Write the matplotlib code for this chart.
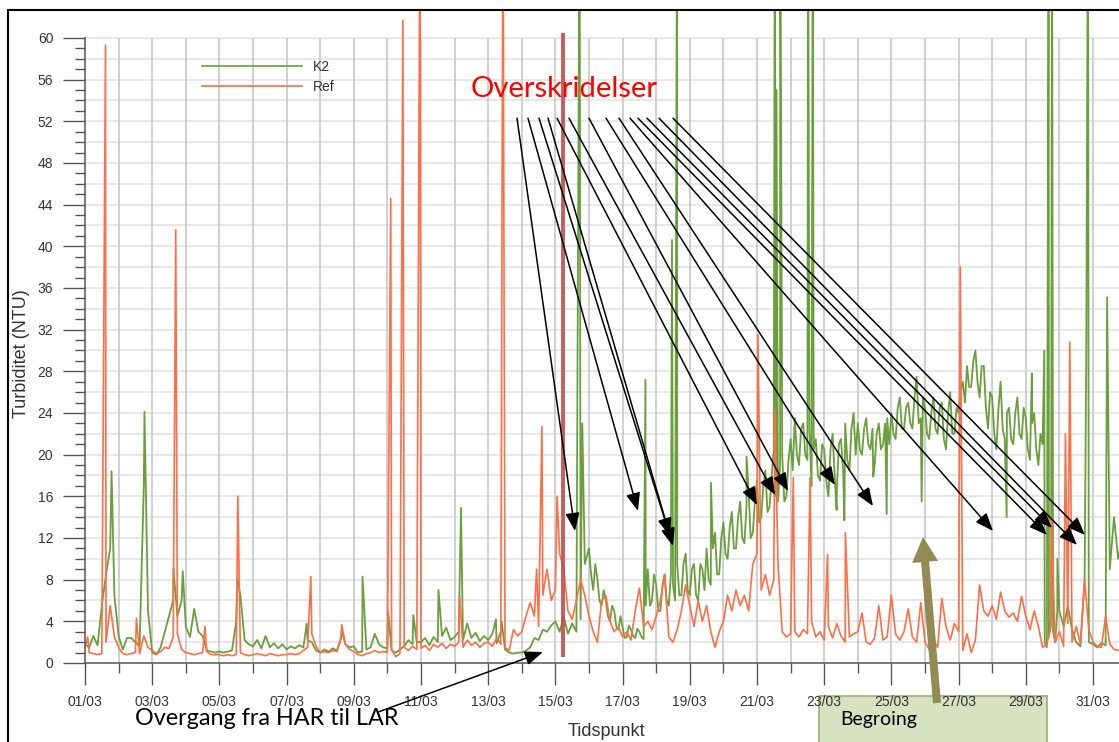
import numpy as np
import matplotlib
matplotlib.use("Agg")
import matplotlib.pyplot as plt
from matplotlib.patches import Rectangle

# ---------------- data ----------------
# regular readings every 3 hours (8 per day), day 1 .. day 31 (March)
k2_grid = [
    1.8, 1.5, 2.6, 1.7, 5.5, 8.5, 11.0, 6.5,
    2.6, 1.3, 2.4, 2.4, 2.0, 1.6, 17.0, 5.0,
    1.0, 0.8, 1.5, 3.0, 4.5, 6.0, 4.5, 6.0,
    3.5, 2.5, 5.2, 3.0, 2.6, 1.2, 1.1, 1.0,
    1.1, 1.0, 1.1, 1.2, 4.0, 6.5, 2.2, 1.8,
    1.6, 2.2, 1.4, 2.6, 1.5, 1.9, 1.4, 1.8,
    1.3, 1.6, 1.4, 1.7, 1.5, 2.2, 2.0, 1.2,
    1.0, 1.3, 1.1, 1.4, 1.2, 2.4, 1.8, 1.5,
    1.6, 1.0, 1.1, 1.3, 1.5, 2.8, 1.8, 1.5,
    1.4, 1.2, 1.0, 1.3, 1.6, 2.2, 1.8, 2.0,
    2.0, 2.4, 1.7, 2.5, 2.0, 2.6, 3.4, 2.2,
    2.5, 3.0, 2.2, 3.8, 2.4, 2.9, 2.1, 2.6,
    2.2, 2.8, 1.9, 3.0, 1.3, 1.0, 0.9, 1.0,
    1.0, 1.2, 1.5, 2.4, 2.2, 3.2, 3.0, 3.6,
    4.0, 3.0, 4.4, 2.8, 3.8, 3.0, 4.2, 9.5,
    11.0, 7.0, 8.0, 5.5, 6.0, 4.0, 5.0, 3.2,
    3.4, 2.5, 3.2, 2.4, 3.0, 2.3, 9.0, 6.0,
    7.5, 5.0, 8.5, 5.5, 7.5, 9.5, 6.5, 10.5,
    6.5, 9.5, 6.0, 9.0, 11.0, 7.5, 12.5, 8.5,
    13.5, 10.0, 14.5, 11.0, 15.5, 11.5, 16.5, 12.5,
    17.5, 14.0, 18.5, 15.0, 20.5, 15.5, 20.0, 16.0,
    21.5, 23.5, 19.0, 23.0, 19.5, 17.0, 21.5, 17.5,
    20.5, 16.0, 22.0, 16.5, 21.5, 23.0, 18.5, 24.0,
    23.0, 20.0, 23.5, 20.5, 19.0, 23.0, 21.0, 23.5,
    24.0, 21.5, 25.5, 22.5, 25.0, 22.5, 27.5, 23.5,
    24.5, 21.5, 25.5, 22.0, 25.0, 20.5, 26.0, 22.0,
    24.0, 27.0, 28.5, 26.5, 30.0, 25.5, 28.5, 22.5,
    25.5, 20.5, 27.0, 21.5, 24.5, 21.0, 25.5, 21.5,
    23.5, 19.5, 24.0, 19.0, 21.0, 1.5, 4.0, 2.0,
    5.0, 3.5, 5.5, 3.2, 2.0, 1.6, 8.0, 2.0,
    1.8, 1.5, 1.9, 1.7, 9.0, 14.0, 10.0, 12.0,
]
# extra in-between readings (1.5 h offset) for the noisy K2 period, 16/03 .. 29/03
k2_mid_first_day = 16
k2_mid = [
    8.5, 9.5, 6.0, 7.0, 4.5, 5.5, 3.5, 4.5,
    2.4, 3.6, 2.6, 3.3, 2.5, 5.5, 5.5, 8.5,
    5.0, 7.5, 6.0, 8.5, 6.0, 6.5, 9.5, 7.0,
    9.0, 6.5, 9.5, 7.0, 8.0, 11.0, 8.5, 12.0,
    10.5, 13.0, 11.0, 14.0, 12.0, 15.0, 12.0, 15.5,
    13.5, 17.0, 14.5, 18.0, 16.0, 19.0, 15.5, 19.5,
    18.5, 20.0, 22.5, 20.0, 22.5, 20.5, 18.0, 21.0,
    17.5, 20.5, 18.0, 21.0, 18.5, 19.5, 22.5, 20.0,
    20.5, 22.5, 21.0, 22.5, 22.0, 20.5, 23.0, 21.0,
    22.0, 24.5, 22.5, 24.5, 23.0, 25.5, 23.0, 25.5,
    22.0, 24.0, 22.5, 24.5, 21.5, 24.0, 22.0, 24.5,
    26.0, 25.0, 26.5, 29.0, 27.0, 28.5, 24.5, 26.0,
    22.0, 24.5, 22.5, 24.0, 21.5, 24.0, 22.0, 24.5,
    20.5, 23.0, 20.5, 22.0, 2.0, 2.5, 3.0, 5.0,
]
# short spikes / dips between the readings
k2_spike_day = [1.79, 2.77, 3.63, 3.91, 5.53, 7.60, 8.64, 9.26, 10.02, 10.77,
                11.52, 12.19, 13.23, 13.40, 15.72, 15.80, 17.68, 18.47, 18.62,
                19.63, 20.69, 21.53, 21.58, 21.69, 22.52, 22.66, 23.37, 23.60,
                24.46, 24.86, 25.90, 28.43, 29.18, 29.55, 29.68, 29.78, 29.94,
                30.80, 30.85, 31.42]
k2_spike_val = [18.4, 24.1, 9.1, 8.8, 8.1, 3.8, 3.2, 8.3, 5.0, 4.6,
                7.0, 14.9, 4.2, 4.0, 75.0, 23.0, 27.2, 40.6, 75.0,
                17.3, 19.8, 75.0, 55.0, 75.0, 75.0, 75.0, 14.7, 13.7,
                17.9, 14.3, 15.5, 14.0, 27.8, 30.0, 75.0, 75.0, 10.0,
                30.0, 75.0, 35.1]

ref_grid = [
    1.4, 1.0, 0.9, 0.8, 0.9, 2.0, 5.5, 2.5,
    1.5, 0.9, 0.8, 0.9, 1.0, 0.9, 2.6, 1.5,
    1.2, 0.9, 1.1, 1.5, 1.4, 2.5, 2.8, 1.3,
    1.0, 0.9, 0.8, 0.9, 1.0, 1.1, 0.8, 0.8,
    0.8, 0.7, 0.8, 0.7, 0.8, 1.0, 0.8, 0.7,
    0.8, 0.9, 0.8, 0.7, 0.9, 0.8, 0.7, 0.8,
    0.8, 0.9, 0.8, 0.9, 1.2, 1.5, 2.8, 1.6,
    1.0, 1.1, 1.0, 1.2, 1.1, 2.5, 1.8, 1.3,
    1.1, 0.8, 0.7, 0.9, 1.0, 1.2, 1.0, 1.1,
    1.0, 1.3, 0.6, 0.9, 1.5, 1.2, 1.6, 1.3,
    1.4, 1.7, 1.2, 1.8, 1.5, 1.9, 1.4, 1.8,
    1.6, 2.0, 1.5, 2.2, 1.7, 2.0, 1.5, 1.9,
    2.0, 1.6, 2.4, 1.8, 1.5, 1.2, 3.2, 2.6,
    3.0, 4.5, 5.8, 4.5, 3.5, 6.5, 9.0, 6.0,
    7.0, 10.5, 9.0, 5.0, 4.2, 6.0, 8.0, 6.5,
    4.5, 3.0, 2.0, 6.0, 6.5, 4.0, 3.0, 3.5,
    2.5, 3.0, 2.2, 5.0, 7.2, 3.5, 4.0, 3.2,
    4.5, 6.0, 8.5, 2.5, 2.0, 3.2, 5.0, 7.5,
    5.5, 3.5, 6.0, 4.0, 5.5, 3.0, 1.5, 3.0,
    4.0, 6.5, 5.0, 7.0, 5.5, 6.5, 5.0, 9.5,
    10.5, 7.0, 8.5, 6.5, 8.0, 9.5, 3.0, 2.5,
    2.8, 3.0, 2.5, 3.2, 2.8, 4.0, 2.5, 3.0,
    2.2, 3.5, 2.4, 3.8, 2.6, 2.0, 2.5, 2.8,
    3.0, 4.8, 2.0, 1.8, 2.4, 5.5, 2.2, 2.5,
    6.5, 2.8, 2.2, 3.0, 5.2, 2.5, 2.0, 5.8,
    2.0, 1.3, 2.2, 1.5, 6.2, 3.5, 2.2, 3.8,
    3.0, 1.2, 2.8, 1.0, 2.2, 7.5, 5.0, 4.5,
    5.5, 4.2, 6.8, 5.0, 4.4, 4.8, 4.0, 6.4,
    4.5, 3.2, 5.0, 3.5, 1.5, 1.8, 3.5, 2.0,
    3.0, 1.6, 3.8, 2.0, 3.5, 1.8, 8.0, 3.2,
    2.0, 1.6, 1.5, 4.5, 1.8, 1.3, 1.2, 1.4,
]
ref_spike_day = [1.08, 1.61, 2.53, 3.70, 4.57, 5.55, 7.72, 8.64, 10.10, 10.46,
                 10.97, 12.15, 13.44, 14.44, 14.60, 15.05, 21.03, 21.53, 22.08,
                 22.58, 23.10, 23.63, 27.05, 29.76, 30.18, 30.31]
ref_spike_val = [2.5, 59.3, 4.3, 41.6, 3.5, 16.0, 8.3, 3.7, 44.6, 61.7,
                 75.0, 6.4, 75.0, 9.0, 22.7, 16.0, 31.5, 24.3, 17.8,
                 17.8, 10.4, 12.5, 38.0, 14.0, 22.0, 30.8]

series_labels = ["K2", "Ref"]
day_ticks = list(range(1, 32, 2))
day_tick_labels = [f"{d:02d}/03" for d in day_ticks]

# annotation arrows (day, NTU)
exceed_start_day = [13.857, 14.185, 14.512, 14.780, 15.048, 15.405, 16.0,
                    16.506, 16.893, 17.220, 17.458, 17.726, 18.083, 18.5]
exceed_start_val = 52.3
exceed_end_day = [15.583, 17.458, 18.411, 18.5, 21.0, 21.536, 21.923,
                  23.321, 24.452, 28.024, 29.631, 29.78, 30.524, 30.762]
exceed_end_val = [12.67, 14.59, 12.19, 11.23, 15.17, 16.13, 16.51,
                  17.09, 15.07, 12.67, 12.29, 12.96, 11.33, 12.29]
transition_day = 15.22

# ---------------- figure ----------------
W, H = 1119, 742
fig = plt.figure(figsize=(W / 100, H / 100), dpi=100)
fig.patch.set_facecolor("white")

px_per_day = 33.6
px_per_unit = 10.417
x0, y0 = 85, 663
ytop_px = 11
ax = fig.add_axes([x0 / W, 1 - y0 / H, 31 * px_per_day / W, (y0 - ytop_px) / H])
ax.set_xlim(1, 32)
ax.set_ylim(0, (y0 - ytop_px) / px_per_unit)

GREEN = "#6b9e3c"
ORANGE = "#ff6e46"


def merged(grid, sp_day, sp_val, mid=None, mid_first=None):
    t = 1 + 0.125 * np.arange(len(grid))
    parts_t = [t, np.asarray(sp_day, float)]
    parts_v = [np.asarray(grid, float), np.asarray(sp_val, float)]
    if mid is not None:
        parts_t.append(mid_first + 0.0625 + 0.125 * np.arange(len(mid)))
        parts_v.append(np.asarray(mid, float))
    tt = np.concatenate(parts_t)
    vv = np.concatenate(parts_v)
    o = np.argsort(tt, kind="stable")
    return tt[o], vv[o]


tk, vk = merged(k2_grid, k2_spike_day, k2_spike_val, k2_mid, k2_mid_first_day)
tr, vr = merged(ref_grid, ref_spike_day, ref_spike_val)

# grid
ax.hlines(np.arange(2, 61, 2), 1, 32, color="#e8e8e8", lw=1.5, zorder=0.5)
ax.vlines(np.arange(2, 32, 1), 0, 60, color="#c4c4c4", lw=1.1, zorder=0.6)

lk, = ax.plot(tk, vk, color=GREEN, lw=1.3, zorder=2, label=series_labels[0])
lr, = ax.plot(tr, vr, color=ORANGE, lw=1.2, zorder=2.2, label=series_labels[1])

ax.vlines(transition_day, 0.6, 60.5, color="#c0504d", lw=2.8, alpha=0.92, zorder=4)

# axes styling
for s in ["top", "right"]:
    ax.spines[s].set_visible(False)
ax.spines["left"].set_bounds(0, 60)
for s in ["left", "bottom"]:
    ax.spines[s].set_color("#555555")
    ax.spines[s].set_linewidth(1.1)

ax.set_yticks(np.arange(0, 61, 4))
ax.set_yticks(np.arange(0, 61, 1), minor=True)
ax.set_xticks(day_ticks)
ax.set_xticklabels(day_tick_labels)
ax.set_xticks(list(range(2, 32, 2)), minor=True)

ax.tick_params(axis="both", which="major", length=15.8, width=1.0, color="#555555",
               labelsize=10, labelcolor="#333333")
ax.tick_params(axis="both", which="minor", length=7.2, width=1.0, color="#555555")
ax.tick_params(axis="y", which="major", pad=7)
ax.tick_params(axis="x", which="major", pad=7)
for lab in ax.get_xticklabels() + ax.get_yticklabels():
    lab.set_fontfamily("Liberation Sans")

fig.text(606 / W, 1 - 731 / H, "Tidspunkt", ha="center", va="center",
         fontsize=13, family="Liberation Sans", color="#333333")
fig.text(22 / W, 1 - 354 / H, "Turbiditet (NTU)", ha="center", va="center",
         rotation=90, fontsize=13, family="Liberation Sans", color="#333333")

# legend
leg = ax.legend(handles=[lk, lr], loc="upper left",
                bbox_to_anchor=((202 - x0) / (31 * px_per_day), (y0 - 60) / (y0 - ytop_px)),
                frameon=False, handlelength=7.2, handletextpad=0.75,
                labelspacing=0.45, borderpad=0, borderaxespad=0,
                prop={"family": "Liberation Sans", "size": 10})
for txt in leg.get_texts():
    txt.set_color("#333333")
for ln in leg.get_lines():
    ln.set_linewidth(1.2)

# annotations
ax.text(12.488, 54.3, "Overskridelser", color="#ff0000", fontsize=21,
        family="Lato", ha="left", va="baseline", zorder=6)

arrow_kw = dict(arrowstyle="-|>,head_length=1.1,head_width=0.43", mutation_scale=10,
                color="black", lw=1.1, shrinkA=0, shrinkB=0)
for sd, ed, ev in zip(exceed_start_day, exceed_end_day, exceed_end_val):
    ax.annotate("", xy=(ed, ev), xytext=(sd, exceed_start_val),
                arrowprops=arrow_kw, annotation_clip=False, zorder=7)

ax.text(2.488, -5.95, "Overgang fra HAR til LAR", color="black", fontsize=16.8,
        family="Lato", ha="left", va="baseline", clip_on=False, zorder=6)
ax.annotate("", xy=(14.63, 1.06), xytext=(9.73, -4.70), arrowprops=arrow_kw,
            annotation_clip=False, zorder=7)

ax.add_patch(Rectangle((22.845, -9.0), 6.786, 9.0 - 3.14, clip_on=False,
                       facecolor="#d7e3c0", edgecolor="#9cb06c", lw=1.2, zorder=1))
ax.text(23.47, -5.98, "Begroing", color="black", fontsize=14, family="Lato",
        ha="left", va="baseline", clip_on=False, zorder=6)
ax.annotate("", xy=(25.94, 12.1), xytext=(26.357, -3.84),
            arrowprops=dict(arrowstyle="simple,head_length=0.5,head_width=0.52,tail_width=0.16",
                            mutation_scale=36, fc="#948a54", ec="#948a54", lw=0,
                            shrinkA=0, shrinkB=0),
            annotation_clip=False, zorder=6)

# outer frame of the screenshot
fig.add_artist(Rectangle((8 / W, -0.05), 1.2, (1 - 10 / H) + 0.05,
                         transform=fig.transFigure, fill=False, edgecolor="black",
                         lw=1.5, zorder=10))

fig.savefig("out.png", dpi=100)
